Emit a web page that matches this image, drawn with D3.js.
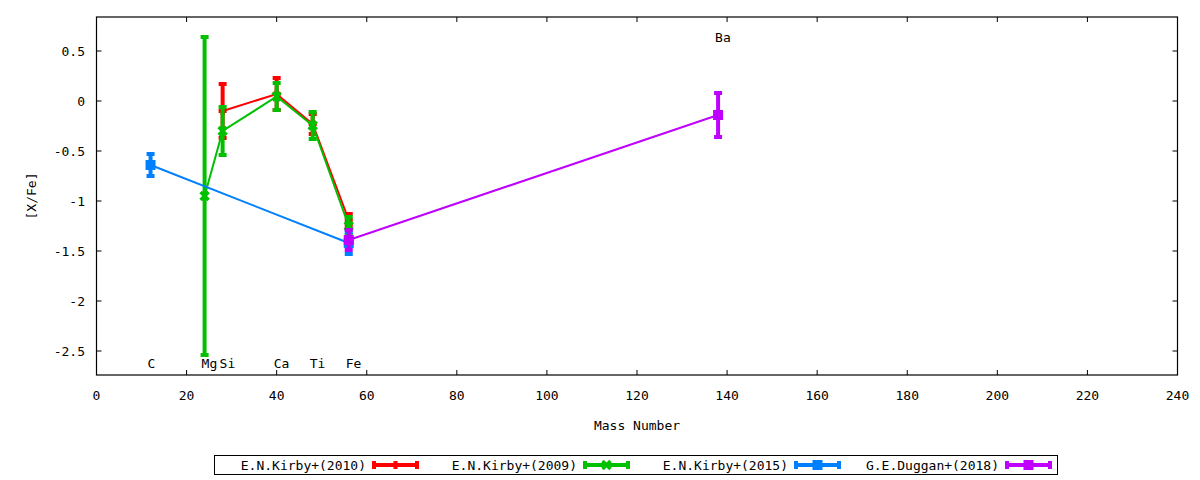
<!DOCTYPE html>
<html>
<head>
<meta charset="utf-8">
<script src="https://cdn.jsdelivr.net/npm/d3@7"></script>
<style>
  body { margin: 0; background: #fff; }
  svg text { font-family: "DejaVu Sans Mono", monospace; font-size: 13px; fill: #000; }
</style>
</head>
<body>
<svg id="chart" width="1200" height="480"></svg>
<script>
// element labels and their mass numbers
const elements = ["C", "Mg", "Si", "Ca", "Ti", "Fe", "Ba"];
const massNumbers = [12, 24, 28, 40, 48, 56, 138];
const labelValues = [-2.62, -2.62, -2.62, -2.62, -2.62, -2.62, 0.635];

// series: elements, [X/Fe], error
const kirby2010Elements = ["Si", "Ca", "Ti", "Fe"];
const kirby2010Values = [-0.10, 0.07, -0.23, -1.19];
const kirby2010Errors = [0.27, 0.16, 0.10, 0.06];

const kirby2009Elements = ["Mg", "Si", "Ca", "Ti", "Fe"];
const kirby2009Values = [-0.95, -0.30, 0.045, -0.245, -1.25];
const kirby2009Errors = [1.59, 0.24, 0.135, 0.135, 0.09];

const kirby2015Elements = ["C", "Fe"];
const kirby2015Values = [-0.64, -1.42];
const kirby2015Errors = [0.11, 0.11];

const duggan2018Elements = ["Fe", "Ba"];
const duggan2018Values = [-1.39, -0.14];
const duggan2018Errors = [0.10, 0.22];

const xTicks = [0, 20, 40, 60, 80, 100, 120, 140, 160, 180, 200, 220, 240];
const yTicks = [0.5, 0, -0.5, -1, -1.5, -2, -2.5];

const massOf = el => massNumbers[elements.indexOf(el)];

function buildSeries(name, els, vals, errs, color, symbol) {
    return {
        name: name, color: color, symbol: symbol,
        points: els.map((el, i) => ({ x: massOf(el), y: vals[i], err: errs[i] }))
    };
}

const series = [
    buildSeries("E.N.Kirby+(2010)", kirby2010Elements, kirby2010Values, kirby2010Errors, "#ff0000", "plus"),
    buildSeries("E.N.Kirby+(2009)", kirby2009Elements, kirby2009Values, kirby2009Errors, "#00c000", "cross"),
    buildSeries("E.N.Kirby+(2015)", kirby2015Elements, kirby2015Values, kirby2015Errors, "#0080ff", "square"),
    buildSeries("G.E.Duggan+(2018)", duggan2018Elements, duggan2018Values, duggan2018Errors, "#c000ff", "square")
];

const plotLeft = 96.5, plotRight = 1177.5, plotTop = 17, plotBottom = 375;

const svg = d3.select("#chart");

const x = d3.scaleLinear().domain([0, 240]).range([plotLeft, plotRight]);
const y = d3.scaleLinear().domain([-2.74, 0.84]).range([plotBottom, plotTop]);

//ticks (mirrored, inward)
const tickLen = 5;
const axes = svg.append("g").attr("stroke", "#000").attr("stroke-width", 1);
xTicks.forEach(t => {
    axes.append("line").attr("x1", x(t)).attr("x2", x(t)).attr("y1", plotBottom).attr("y2", plotBottom - tickLen);
    axes.append("line").attr("x1", x(t)).attr("x2", x(t)).attr("y1", plotTop).attr("y2", plotTop + tickLen);
});
yTicks.forEach(t => {
    axes.append("line").attr("x1", plotLeft).attr("x2", plotLeft + tickLen).attr("y1", y(t)).attr("y2", y(t));
    axes.append("line").attr("x1", plotRight).attr("x2", plotRight - tickLen).attr("y1", y(t)).attr("y2", y(t));
});

//tick labels
svg.append("g").selectAll("text")
    .data(xTicks)
    .enter()
    .append("text")
    .attr("x", d => x(d))
    .attr("y", 395)
    .attr("text-anchor", "middle")
    .attr("dominant-baseline", "central")
    .text(d => d);

svg.append("g").selectAll("text")
    .data(yTicks)
    .enter()
    .append("text")
    .attr("x", 85)
    .attr("y", d => y(d))
    .attr("text-anchor", "end")
    .attr("dominant-baseline", "central")
    .text(d => String(d));

//axis labels
svg.append("text")
    .attr("x", (plotLeft + plotRight) / 2)
    .attr("y", 425)
    .attr("text-anchor", "middle")
    .attr("dominant-baseline", "central")
    .text("Mass Number");

svg.append("text")
    .attr("transform", `translate(31,${(plotTop + plotBottom) / 2}) rotate(-90)`)
    .attr("text-anchor", "middle")
    .attr("dominant-baseline", "central")
    .text("[X/Fe]");

//element labels
svg.append("g").selectAll("text")
    .data(elements)
    .enter()
    .append("text")
    .attr("x", (d, i) => x(massNumbers[i]) - 3)
    .attr("y", (d, i) => y(labelValues[i]))
    .attr("text-anchor", "start")
    .attr("dominant-baseline", "central")
    .text(d => d);

//point symbols
function drawSymbol(g, type, cx, cy, color) {
    if (type === "square") {
        g.append("rect")
            .attr("x", cx - 5).attr("y", cy - 5)
            .attr("width", 10).attr("height", 10)
            .attr("fill", color);
    } else if (type === "plus") {
        g.append("path")
            .attr("d", `M${cx - 4},${cy}H${cx + 4}M${cx},${cy - 4}V${cy + 4}`)
            .attr("stroke", color).attr("stroke-width", 4).attr("fill", "none");
    } else {
        g.append("path")
            .attr("d", `M${cx - 4},${cy - 4}L${cx + 4},${cy + 4}M${cx - 4},${cy + 4}L${cx + 4},${cy - 4}`)
            .attr("stroke", color).attr("stroke-width", 3.5).attr("fill", "none");
    }
}

const plot = svg.append("g");
const line = d3.line().x(d => x(d.x)).y(d => y(d.y));

series.forEach(s => {
    const g = plot.append("g");
    //error bars
    s.points.forEach(p => {
        const cx = x(p.x);
        const y1 = y(p.y + p.err), y2 = y(p.y - p.err);
        g.append("line")
            .attr("x1", cx).attr("x2", cx).attr("y1", y1).attr("y2", y2)
            .attr("stroke", s.color).attr("stroke-width", 4);
        [y1, y2].forEach(yy => {
            g.append("line")
                .attr("x1", cx - 4).attr("x2", cx + 4).attr("y1", yy).attr("y2", yy)
                .attr("stroke", s.color).attr("stroke-width", 4);
        });
    });
    g.append("path")
        .datum(s.points)
        .attr("d", line)
        .attr("fill", "none")
        .attr("stroke", s.color)
        .attr("stroke-width", 2);
    s.points.forEach(p => drawSymbol(g, s.symbol, x(p.x), y(p.y), s.color));
});

//frame
svg.append("rect")
    .attr("x", plotLeft).attr("y", plotTop)
    .attr("width", plotRight - plotLeft).attr("height", plotBottom - plotTop)
    .attr("fill", "none").attr("stroke", "#000").attr("stroke-width", 1.2);

//legend
const legend = svg.append("g");
legend.append("rect")
    .attr("x", 214.5).attr("y", 455.5)
    .attr("width", 843).attr("height", 19)
    .attr("fill", "none").attr("stroke", "#000").attr("stroke-width", 1);

series.forEach((s, i) => {
    const tx = 366 + i * 211;
    const sx = 374 + i * 211;
    const ly = 465;
    legend.append("text")
        .attr("x", tx).attr("y", ly)
        .attr("text-anchor", "end")
        .attr("dominant-baseline", "central")
        .text(s.name);
    legend.append("line")
        .attr("x1", sx).attr("x2", sx + 43).attr("y1", ly).attr("y2", ly)
        .attr("stroke", s.color).attr("stroke-width", 4);
    [sx, sx + 43].forEach(ex => {
        legend.append("line")
            .attr("x1", ex).attr("x2", ex).attr("y1", ly - 4).attr("y2", ly + 4)
            .attr("stroke", s.color).attr("stroke-width", 4);
    });
    drawSymbol(legend, s.symbol, sx + 21.5, ly, s.color);
});
</script>
</body>
</html>
